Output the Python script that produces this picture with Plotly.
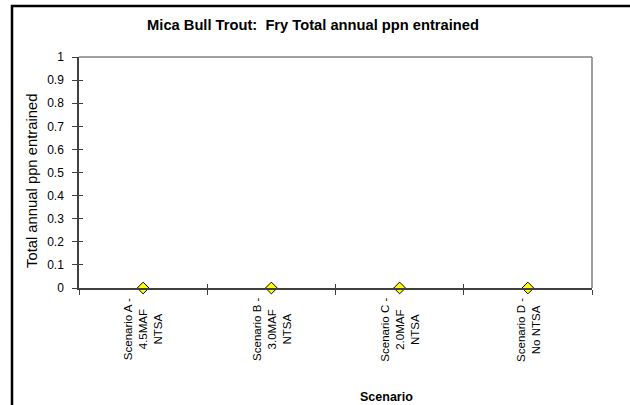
import plotly.graph_objects as go

# Scenario categories and the total annual proportion of fry entrained
scenarios = [
    "Scenario A -<br>4.5MAF<br>NTSA",
    "Scenario B -<br>3.0MAF<br>NTSA",
    "Scenario C -<br>2.0MAF<br>NTSA",
    "Scenario D -<br>No NTSA",
]
ppn_entrained = [0.0, 0.0, 0.0, 0.0]
y_ticks = [0, 0.1, 0.2, 0.3, 0.4, 0.5, 0.6, 0.7, 0.8, 0.9, 1]

W, H = 630, 405
L, R, T, B = 79, 38, 57, 117
PW, PH = W - L - R, H - T - B
FONT = "Liberation Sans, Arial, sans-serif"
AXIS = "#404040"


def px_x(px):
    return (px - L) / PW


def px_y(py):
    return (H - B - py) / PH


fig = go.Figure()
fig.add_trace(go.Scatter(
    x=scenarios, y=ppn_entrained, mode="markers",
    marker=dict(symbol="diamond", size=9, color="#ffff00",
                line=dict(color="#000000", width=1)),
    showlegend=False, cliponaxis=False,
))

# Overlay axes only to draw the inward half of the crossing tick marks
fig.add_trace(go.Scatter(x=scenarios, y=ppn_entrained, xaxis="x2", yaxis="y2",
                         mode="markers", marker=dict(opacity=0),
                         showlegend=False, hoverinfo="skip"))

fig.update_layout(
    width=W, height=H,
    margin=dict(l=L, r=R, t=T, b=B),
    paper_bgcolor="white", plot_bgcolor="white",
    font=dict(family=FONT, size=11, color="#000000"),
    title=dict(text="<b>Mica Bull Trout:  Fry Total annual ppn entrained</b>",
               x=313 / W, xref="container", xanchor="center",
               y=1 - 25 / H, yref="container", yanchor="middle",
               font=dict(size=14.7, family=FONT)),
    xaxis=dict(
        type="category", range=[-0.5, 3.5], showgrid=False, zeroline=False,
        showline=True, linecolor=AXIS, linewidth=1.5,
        ticks="outside", ticklen=5, tickcolor=AXIS, tickson="boundaries",
        showticklabels=False,
    ),
    xaxis2=dict(
        type="category", range=[-0.5, 3.5], overlaying="x", side="bottom",
        anchor="y2", showgrid=False, zeroline=False, showline=False,
        ticks="inside", ticklen=4, tickcolor=AXIS, tickson="boundaries",
        showticklabels=False,
    ),
    yaxis=dict(
        range=[0, 1], tickvals=y_ticks, ticktext=[f"{v:g}" for v in y_ticks],
        showgrid=False, zeroline=False, showline=True, linecolor=AXIS,
        linewidth=1.5, ticks="outside", ticklen=5, tickcolor=AXIS,
        tickfont=dict(size=12), ticklabelstandoff=6,
    ),
    yaxis2=dict(
        range=[0, 1], tickvals=y_ticks, overlaying="y", side="left", anchor="x2",
        showgrid=False, zeroline=False, showline=False,
        ticks="inside", ticklen=4, tickcolor=AXIS, showticklabels=False,
    ),
)

# Scenario names, rotated and centred beneath each category
for name in scenarios:
    fig.add_annotation(x=name, y=px_y(296), xref="x", yref="paper",
                       text=name, textangle=-90, showarrow=False,
                       xanchor="center", yanchor="top", align="center",
                       font=dict(size=11.5, family=FONT))

# Axis titles
fig.add_annotation(x=px_x(386), y=px_y(397), xref="paper", yref="paper",
                   text="<b>Scenario</b>", showarrow=False,
                   xanchor="center", yanchor="middle",
                   font=dict(size=12.5, family=FONT))
fig.add_annotation(x=px_x(32), y=px_y(181), xref="paper", yref="paper",
                   text="Total annual ppn entrained", textangle=-90,
                   showarrow=False, xanchor="center", yanchor="middle",
                   font=dict(size=14.8, family=FONT))

# Grey frame on the top and right of the plot area
fig.add_shape(type="line", xref="paper", yref="paper", x0=0, x1=1, y0=1, y1=1,
              line=dict(color="#808080", width=1.5))
fig.add_shape(type="line", xref="paper", yref="paper", x0=1, x1=1, y0=0, y1=1,
              line=dict(color="#808080", width=1.5))

# Outer chart border
fig.add_shape(type="rect", xref="paper", yref="paper",
              x0=px_x(12), x1=px_x(W + 20),
              y0=px_y(H + 20), y1=px_y(6),
              line=dict(color="#000000", width=2.5), layer="below")

fig.write_html("out.html")
